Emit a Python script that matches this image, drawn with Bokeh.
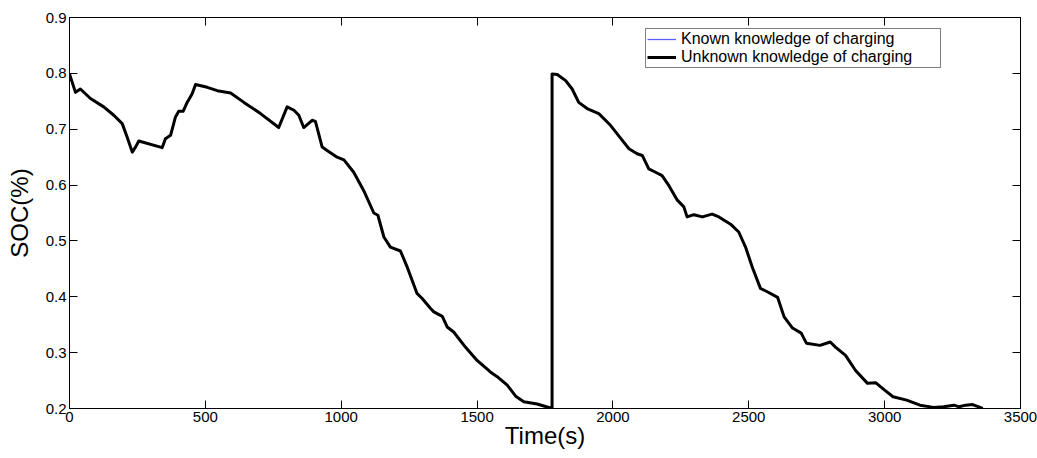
from bokeh.plotting import figure
from bokeh.models import LinearAxis, Legend, LegendItem, FixedTicker, Range1d, CustomLabelingPolicy
from bokeh.embed import file_html
from bokeh.resources import INLINE

time_s = [0, 22, 40, 77, 126, 163, 194, 212, 231, 243, 255, 341, 353, 372, 390, 402, 418, 433, 451, 464,
          507, 544, 593, 642, 703, 770, 801, 826, 844, 862, 893, 905, 930, 948, 985, 1010, 1046, 1083,
          1120, 1135, 1157, 1181, 1218, 1243, 1279, 1298, 1329, 1341, 1372, 1390, 1414, 1457, 1500,
          1550, 1574, 1611, 1642, 1672, 1721, 1776,
          1776, 1795, 1826, 1850, 1874, 1905, 1948, 1991, 2028, 2059, 2089, 2108, 2132, 2157, 2181,
          2206, 2237, 2261, 2273, 2298, 2329, 2365, 2390, 2433, 2463, 2488, 2513, 2543, 2568, 2606,
          2630, 2661, 2693, 2712, 2762, 2800, 2819, 2856, 2893, 2937, 2968, 3000, 3031, 3081, 3130,
          3180, 3217, 3255, 3274, 3298, 3324, 3361]

soc_unknown = [0.799, 0.766, 0.772, 0.755, 0.740, 0.725, 0.710, 0.686, 0.659, 0.668, 0.679, 0.667, 0.683,
               0.689, 0.722, 0.732, 0.732, 0.748, 0.763, 0.780, 0.775, 0.769, 0.765, 0.748, 0.728, 0.703,
               0.740, 0.734, 0.725, 0.703, 0.716, 0.714, 0.668, 0.662, 0.650, 0.645, 0.623, 0.590, 0.550,
               0.546, 0.507, 0.489, 0.482, 0.453, 0.406, 0.397, 0.379, 0.373, 0.365, 0.346, 0.337, 0.310,
               0.286, 0.265, 0.257, 0.242, 0.222, 0.212, 0.208, 0.200,
               0.799, 0.798, 0.787, 0.772, 0.748, 0.737, 0.728, 0.707, 0.684, 0.665, 0.656, 0.653, 0.629,
               0.623, 0.617, 0.599, 0.573, 0.561, 0.543, 0.547, 0.543, 0.548, 0.543, 0.530, 0.516, 0.489,
               0.453, 0.415, 0.409, 0.399, 0.364, 0.344, 0.335, 0.317, 0.313, 0.319, 0.310, 0.295, 0.268,
               0.245, 0.246, 0.233, 0.221, 0.215, 0.206, 0.202, 0.203, 0.206, 0.203, 0.206, 0.207, 0.200]

soc_known = list(soc_unknown)

x_ticks = [0, 500, 1000, 1500, 2000, 2500, 3000, 3500]
y_ticks = [0.2, 0.3, 0.4, 0.5, 0.6, 0.7, 0.8, 0.9]

FONT = "Liberation Sans"

p = figure(width=1037, height=458, output_backend="svg", toolbar_location=None,
           x_range=Range1d(0, 3500), y_range=Range1d(0.2, 0.9),
           min_border_left=69, min_border_right=17, min_border_top=17, min_border_bottom=50,
           x_axis_label="Time(s)", y_axis_label="SOC(%)")
p.grid.visible = False
p.outline_line_color = "black"
p.outline_line_width = 1
p.background_fill_color = "white"
p.border_fill_color = "white"

def style_axis(ax, ticks, labels=True):
    ax.ticker = FixedTicker(ticks=ticks)
    ax.major_tick_in = 8
    ax.major_tick_out = 0
    ax.minor_tick_line_color = None
    ax.axis_line_color = "black"
    ax.major_tick_line_color = "black"
    ax.major_label_text_font = FONT
    ax.major_label_text_color = "black"
    if labels:
        ax.major_label_text_font_size = "15px"
        ax.major_label_standoff = 3
    else:
        ax.major_label_text_font_size = "0px"
        ax.major_label_standoff = 0
        ax.major_label_policy = CustomLabelingPolicy(code="return []")

style_axis(p.xaxis[0], x_ticks)
style_axis(p.yaxis[0], y_ticks)
for ax in (p.xaxis[0], p.yaxis[0]):
    ax.axis_label_text_font = FONT
    ax.axis_label_text_font_size = "24px"
    ax.axis_label_text_font_style = "normal"
    ax.axis_label_text_color = "black"
p.xaxis[0].axis_label_standoff = -3
p.yaxis[0].axis_label_standoff = 10

top_ax = LinearAxis()
style_axis(top_ax, x_ticks, labels=False)
p.add_layout(top_ax, "above")
right_ax = LinearAxis()
style_axis(right_ax, y_ticks, labels=False)
p.add_layout(right_ax, "right")

r_known = p.line(time_s, soc_known, line_color="#5c5cff", line_width=1.3)
r_unknown = p.line(time_s, soc_unknown, line_color="black", line_width=3, line_join="round")

legend = Legend(items=[LegendItem(label="Known knowledge of charging", renderers=[r_known]),
                       LegendItem(label="Unknown knowledge of charging", renderers=[r_unknown])],
                location=(576, 340))
legend.label_text_font = FONT
legend.label_text_font_size = "16px"
legend.label_text_line_height = 1.0
legend.label_text_color = "black"
legend.label_height = 14
legend.glyph_height = 14
legend.glyph_width = 29
legend.label_standoff = 5
legend.label_width = 258
legend.padding = 1
legend.spacing = 0
legend.margin = 0
legend.border_line_color = "black"
legend.border_line_width = 1
legend.background_fill_color = "white"
legend.background_fill_alpha = 1
p.add_layout(legend, "center")

open("out.html", "w").write(file_html(p, INLINE))
